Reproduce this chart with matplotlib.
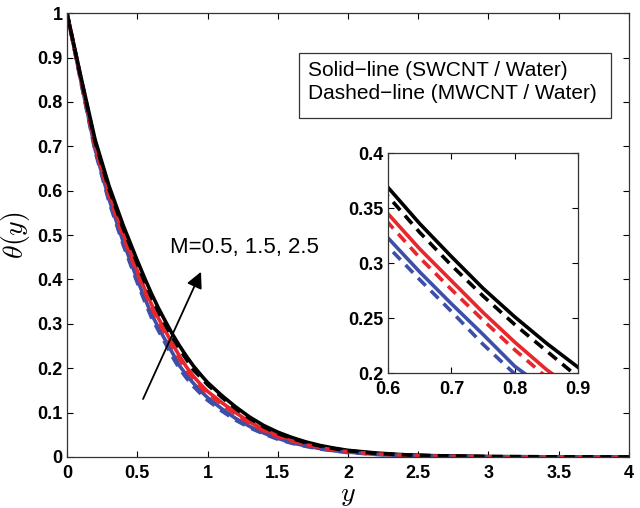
import numpy as np
import matplotlib
matplotlib.use("Agg")
import matplotlib.pyplot as plt
from matplotlib.patches import Rectangle

plt.rcParams["font.family"] = ["Liberation Sans", "DejaVu Sans"]
plt.rcParams["mathtext.fontset"] = "cm"

# y grid and theta(y)
y = [0.0, 0.1, 0.2, 0.3, 0.4, 0.5, 0.55, 0.6, 0.65, 0.7, 0.75, 0.8, 0.85, 0.9, 0.95, 1.0,
     1.1, 1.2, 1.3, 1.4, 1.5, 1.6, 1.7, 1.8, 1.9, 2.0, 2.2, 2.4, 2.6, 2.8, 3.0, 3.5, 4.0]

# SWCNT / Water (solid)
blue_solid = [1.0, 0.845, 0.693, 0.58, 0.485, 0.4, 0.36, 0.323, 0.292, 0.263, 0.235, 0.206,
              0.185, 0.166, 0.149, 0.134, 0.109, 0.087, 0.069, 0.054, 0.042, 0.032, 0.025,
              0.019, 0.014, 0.011, 0.006, 0.003, 0.002, 0.001, 0.0004, 0.0001, 0.0]
red_solid = [1.0, 0.85, 0.703, 0.594, 0.502, 0.42, 0.381, 0.345, 0.313, 0.284, 0.255, 0.228,
             0.203, 0.182, 0.164, 0.148, 0.123, 0.1, 0.079, 0.062, 0.048, 0.037, 0.029,
             0.022, 0.017, 0.013, 0.007, 0.004, 0.002, 0.001, 0.0005, 0.0001, 0.0]
black_solid = [1.0, 0.855, 0.715, 0.61, 0.522, 0.443, 0.405, 0.369, 0.336, 0.306, 0.277, 0.251,
               0.227, 0.205, 0.186, 0.168, 0.139, 0.113, 0.09, 0.071, 0.056, 0.044, 0.034,
               0.026, 0.02, 0.015, 0.009, 0.005, 0.003, 0.002, 0.001, 0.0003, 0.0]

# MWCNT / Water (dashed)
blue_dash = [1.0, 0.843, 0.689, 0.574, 0.478, 0.393, 0.353, 0.315, 0.285, 0.256, 0.226, 0.199,
             0.178, 0.159, 0.143, 0.128, 0.104, 0.083, 0.066, 0.052, 0.04, 0.031, 0.024,
             0.018, 0.014, 0.01, 0.006, 0.003, 0.002, 0.001, 0.0004, 0.0001, 0.0]
red_dash = [1.0, 0.848, 0.698, 0.588, 0.496, 0.413, 0.374, 0.337, 0.305, 0.276, 0.248, 0.221,
            0.196, 0.176, 0.158, 0.143, 0.119, 0.096, 0.076, 0.059, 0.046, 0.036, 0.028,
            0.021, 0.016, 0.012, 0.007, 0.004, 0.002, 0.001, 0.0005, 0.0001, 0.0]
black_dash = [1.0, 0.852, 0.71, 0.603, 0.515, 0.436, 0.397, 0.361, 0.328, 0.298, 0.27, 0.244,
              0.22, 0.196, 0.18, 0.163, 0.135, 0.109, 0.087, 0.068, 0.053, 0.042, 0.032,
              0.025, 0.019, 0.014, 0.008, 0.005, 0.003, 0.002, 0.001, 0.0003, 0.0]

blue = "#3d4fa9"
red = "#e8262b"
lw = 2.6
dash = (0, (3, 2))

fig = plt.figure(figsize=(6.4, 5.08), dpi=100)
ax = fig.add_axes([0.1047, 0.1004, 0.8781, 0.8736])


def draw(a):
    a.plot(y, blue_solid, color=blue, lw=lw)
    a.plot(y, red_solid, color=red, lw=lw)
    a.plot(y, black_solid, color="black", lw=lw)
    a.plot(y, blue_dash, color=blue, lw=lw, ls=dash)
    a.plot(y, red_dash, color=red, lw=lw, ls=dash)
    a.plot(y, black_dash, color="black", lw=lw, ls=dash)


def style(a):
    a.tick_params(direction="in", top=True, right=True, length=4, width=0.8,
                  labelsize=13)
    a.tick_params(axis="x", pad=6)
    a.tick_params(axis="y", pad=3)
    for lab in a.get_xticklabels() + a.get_yticklabels():
        lab.set_fontweight("bold")
    for s in a.spines.values():
        s.set_color("#333333")
        s.set_linewidth(0.9)


draw(ax)
ax.set_xlim(0, 4)
ax.set_ylim(0, 1)
ax.set_xticks([0, 0.5, 1, 1.5, 2, 2.5, 3, 3.5, 4])
ax.set_xticklabels(["0", "0.5", "1", "1.5", "2", "2.5", "3", "3.5", "4"])
ax.set_yticks(np.arange(0, 1.01, 0.1))
ax.set_yticklabels(["0", "0.1", "0.2", "0.3", "0.4", "0.5", "0.6", "0.7", "0.8", "0.9", "1"])
style(ax)
ax.set_xlabel(r"$y$", fontsize=20, labelpad=0)
ax.set_ylabel(r"$\theta(y)$", fontsize=20, labelpad=4)

ax.annotate("", xy=(0.962, 0.423), xytext=(0.533, 0.125),
            arrowprops=dict(arrowstyle="-|>", color="black", lw=1.3,
                            mutation_scale=24))
ax.text(0.73, 0.473, "M=0.5, 1.5, 2.5", fontsize=16, va="center", ha="left")

ax.add_patch(Rectangle((1.651, 0.764), 2.221, 0.146, fc="white", ec="#333333",
                       lw=0.9, zorder=5))
ax.text(1.715, 0.872, "Solid\u2212line (SWCNT / Water)", fontsize=15,
        va="center", ha="left", zorder=6)
ax.text(1.715, 0.818, "Dashed\u2212line (MWCNT / Water)", fontsize=15,
        va="center", ha="left", zorder=6)

ins = fig.add_axes([0.6063, 0.2657, 0.2974, 0.4323])
draw(ins)
ins.set_xlim(0.6, 0.9)
ins.set_ylim(0.2, 0.4)
ins.set_xticks([0.6, 0.7, 0.8, 0.9])
ins.set_xticklabels(["0.6", "0.7", "0.8", "0.9"])
ins.set_yticks([0.2, 0.25, 0.3, 0.35, 0.4])
ins.set_yticklabels(["0.2", "0.25", "0.3", "0.35", "0.4"])
style(ins)

fig.savefig("out.png", dpi=100)
